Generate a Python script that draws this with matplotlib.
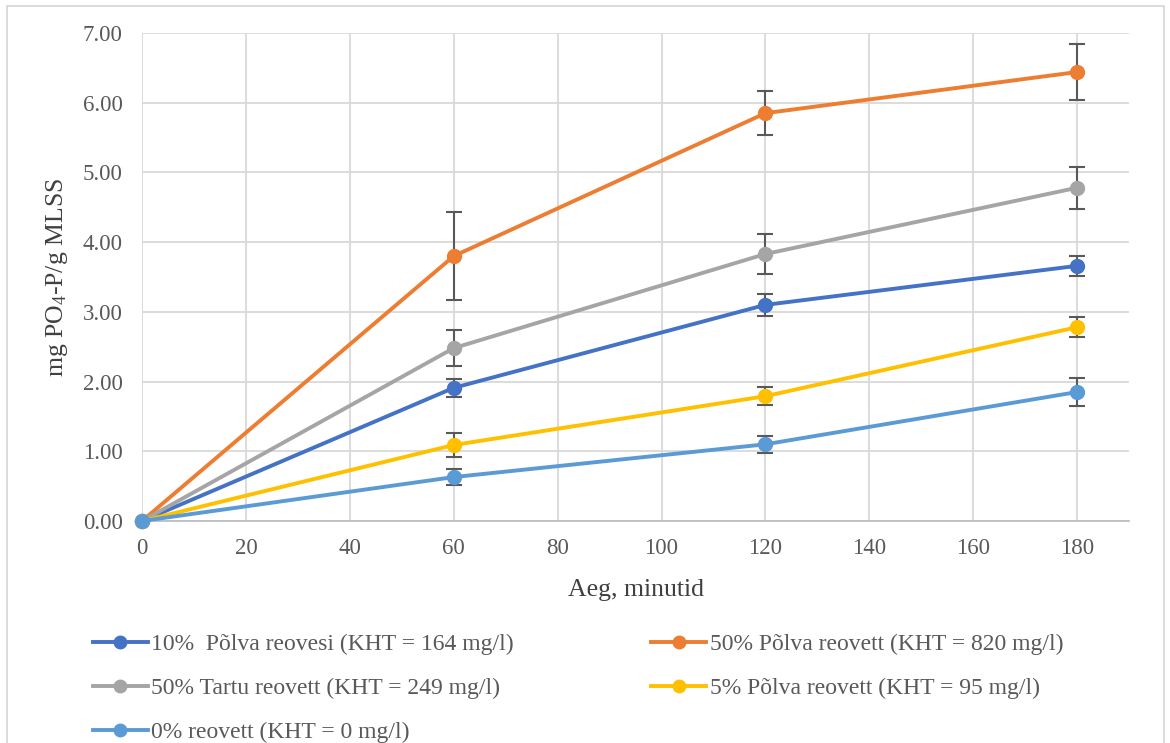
import matplotlib
matplotlib.use("Agg")
import matplotlib.pyplot as plt
from matplotlib.patches import Rectangle

time_min = [0, 60, 120, 180]

labels = [
    "10%  Põlva reovesi (KHT = 164 mg/l)",
    "50% Põlva reovett (KHT = 820 mg/l)",
    "50% Tartu reovett (KHT = 249 mg/l)",
    "5% Põlva reovett (KHT = 95 mg/l)",
    "0% reovett (KHT = 0 mg/l)",
]
colors = ["#4472C4", "#ED7D31", "#A5A5A5", "#FFC000", "#5B9BD5"]

blue_10 = [0.0, 1.91, 3.10, 3.66]
orange_50 = [0.0, 3.80, 5.85, 6.44]
gray_50t = [0.0, 2.48, 3.83, 4.78]
yellow_5 = [0.0, 1.09, 1.79, 2.78]
lblue_0 = [0.0, 0.63, 1.10, 1.85]

blue_err = [0.0, 0.13, 0.16, 0.14]
orange_err = [0.0, 0.63, 0.32, 0.40]
gray_err = [0.0, 0.26, 0.28, 0.30]
yellow_err = [0.0, 0.17, 0.13, 0.14]
lblue_err = [0.0, 0.12, 0.12, 0.20]

series = [blue_10, orange_50, gray_50t, yellow_5, lblue_0]
errors = [blue_err, orange_err, gray_err, yellow_err, lblue_err]

plt.rcParams['font.family'] = ['Liberation Serif', 'DejaVu Serif']
plt.rcParams['mathtext.fontset'] = 'custom'
plt.rcParams['mathtext.rm'] = 'Liberation Serif'
plt.rcParams['mathtext.it'] = 'Liberation Serif:italic'
plt.rcParams['mathtext.bf'] = 'Liberation Serif:bold'

fig = plt.figure(figsize=(11.7, 7.43), dpi=100)
ax = fig.add_axes([0.1214, 0.2988, 0.965 - 0.1214, 0.9556 - 0.2988])

handles = []
for vals, err, c, lab in zip(series, errors, colors, labels):
    ax.errorbar(time_min, vals, yerr=err, fmt='none', ecolor='#595959',
                elinewidth=1.5, capsize=6, capthick=1.5, zorder=2)
    h, = ax.plot(time_min, vals, color=c, lw=2.8, marker='o', ms=10,
                 label=lab, zorder=3, clip_on=False)
    handles.append(h)

ax.set_xlim(0, 190)
ax.set_ylim(0, 7)
ax.set_xticks(range(0, 181, 20))
ax.set_yticks([i for i in range(8)])
ax.set_yticklabels([f"{i:.2f}" for i in range(8)])
ax.grid(True, color='#D9D9D9', lw=1.3)
ax.set_axisbelow(True)
for s in ['top', 'right', 'left']:
    ax.spines[s].set_visible(False)
ax.spines['bottom'].set_color('#BFBFBF')
ax.spines['bottom'].set_linewidth(1.3)
ax.tick_params(axis='y', length=0, labelsize=16.5, colors='#595959', pad=14)
ax.tick_params(axis='x', length=0, labelsize=16.5, colors='#595959', pad=12)
ax.set_xlabel("Aeg, minutid", fontsize=18.5, color='#404040', labelpad=15)
ax.set_ylabel(r"mg PO$_\mathregular{4}$-P/g MLSS", fontsize=18.5, color='#404040', labelpad=9)

order = [0, 2, 4, 1, 3]
fig.legend([handles[i] for i in order], [labels[i] for i in order],
           ncol=2, loc='upper left', bbox_to_anchor=(0.061, 0.176),
           frameon=False, fontsize=17, labelcolor='#595959',
           columnspacing=5.83, handlelength=2.33, handletextpad=0.15,
           labelspacing=0.95, markerscale=0.9)

fig.patches.append(Rectangle((0.006, -0.01), 0.989, 1.002, transform=fig.transFigure,
                             fill=False, edgecolor='#D9D9D9', lw=1.3))

fig.savefig("out.png", dpi=100)
